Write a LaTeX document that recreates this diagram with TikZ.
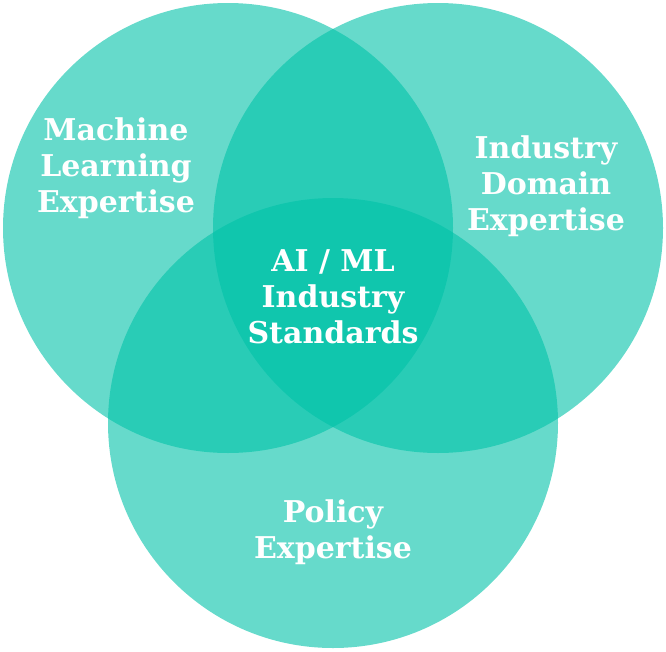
\documentclass[tikz,border=0pt]{standalone}
\usepackage{fontspec}
\setmainfont{DejaVu Serif}
\definecolor{teal1}{RGB}{0,194,168}
\begin{document}
\begin{tikzpicture}[x=1pt,y=-1pt,
  circ/.style={fill=teal1,fill opacity=0.6,draw=none},
  lbl/.style={text=white,font=\fontsize{30}{36}\selectfont\bfseries,align=center,inner sep=0pt}]
\useasboundingbox (0,0) rectangle (666,651);
\fill[circ] (228,228) circle (225);
\fill[circ] (438,228) circle (225);
\fill[circ] (333,423) circle (225);
\node[lbl] (ml) at (116,168) {Machine\\Learning\\Expertise};
\node[lbl] (ind) at (546,186) {Industry\\Domain\\Expertise};
\node[lbl] (ai) at (333,297) {AI / ML\\Industry\\Standards};
\node[lbl] (pol) at (333,532) {Policy\\Expertise};
\end{tikzpicture}
\end{document}
